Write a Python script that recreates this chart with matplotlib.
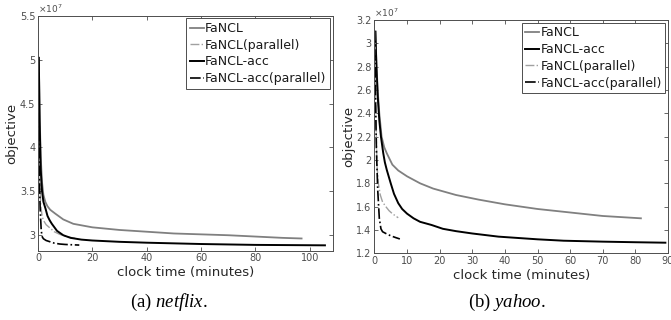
import matplotlib
matplotlib.use("Agg")
import matplotlib.pyplot as plt
from matplotlib.ticker import FuncFormatter

plt.rcParams['font.family'] = ['DejaVu Sans']
plt.rcParams['mathtext.fontset'] = 'custom'
plt.rcParams['mathtext.rm'] = 'Liberation Serif'
plt.rcParams['mathtext.it'] = 'Liberation Serif:italic'

# ---------------- netflix data (objective in units of 1e7) ----------------
nf_fancl_x = [0.3, 0.6, 1, 1.5, 2, 2.7, 3.5, 4.5, 6.4, 9.3, 13, 20, 30, 40, 50, 60, 70, 80, 90, 97]
nf_fancl_y = [5.02, 4.4, 3.9, 3.6, 3.46, 3.38, 3.33, 3.29, 3.245, 3.18, 3.13, 3.09, 3.06, 3.04, 3.02, 3.01, 3.0, 2.985, 2.97, 2.963]

nf_fancl_par_x = [0.2, 0.4, 0.7, 1, 1.5, 2, 3, 4.5, 6, 8, 10, 12, 13.7]
nf_fancl_par_y = [5.0, 4.2, 3.6, 3.35, 3.22, 3.17, 3.12, 3.08, 3.04, 3.01, 2.99, 2.975, 2.965]

nf_acc_x = [0.3, 0.6, 1, 1.5, 2, 2.8, 3.5, 4.3, 5.1, 7, 9.3, 12, 16, 20, 30, 40, 60, 80, 105.6]
nf_acc_y = [5.02, 4.3, 3.75, 3.5, 3.38, 3.3, 3.22, 3.17, 3.13, 3.05, 3.0, 2.97, 2.95, 2.94, 2.925, 2.915, 2.90, 2.89, 2.885]

nf_acc_par_x = [0.15, 0.3, 0.5, 0.8, 1.2, 1.6, 2, 3, 4.5, 6, 8, 10, 12, 15.2]
nf_acc_par_y = [5.0, 4.3, 3.7, 3.3, 3.05, 2.98, 2.96, 2.94, 2.925, 2.91, 2.9, 2.895, 2.892, 2.888]

# ---------------- yahoo data (objective in units of 1e7) ----------------
yh_fancl_x = [0.3, 0.6, 1, 1.5, 2.2, 3, 3.8, 5.5, 7.3, 10, 14, 18, 25, 32, 40, 50, 60, 70, 81.7]
yh_fancl_y = [3.1, 2.85, 2.6, 2.40, 2.2, 2.11, 2.057, 1.96, 1.91, 1.86, 1.80, 1.755, 1.70, 1.66, 1.62, 1.58, 1.55, 1.52, 1.50]

yh_acc_x = [0.3, 0.6, 1.0, 1.5, 2.0, 2.7, 3.2, 3.8, 5, 6, 7.3, 8.5, 10, 12, 14, 17.5, 21, 25, 30, 38, 50, 58, 70, 80, 89.2]
yh_acc_y = [3.1, 2.8, 2.55, 2.34, 2.2, 2.06, 1.98, 1.914, 1.80, 1.71, 1.63, 1.58, 1.54, 1.50, 1.47, 1.443, 1.41, 1.39, 1.37, 1.343, 1.32, 1.308, 1.30, 1.295, 1.291]

yh_fancl_par_x = [0.15, 0.3, 0.5, 0.8, 1.2, 1.8, 2.5, 3.5, 4.5, 5.5, 6.5, 7.3]
yh_fancl_par_y = [3.1, 2.7, 2.3, 1.95, 1.80, 1.70, 1.64, 1.60, 1.565, 1.54, 1.52, 1.505]

yh_acc_par_x = [0.1, 0.3, 0.6, 1.0, 1.5, 2.0, 2.5, 3.5, 5, 6.5, 7.8]
yh_acc_par_y = [3.1, 2.6, 2.1, 1.75, 1.5, 1.41, 1.385, 1.37, 1.35, 1.335, 1.323]

nf_xticks = [0, 20, 40, 60, 80, 100]
nf_yticks = [3, 3.5, 4, 4.5, 5, 5.5]
yh_xticks = [0, 10, 20, 30, 40, 50, 60, 70, 80, 90]
yh_yticks = [1.2, 1.4, 1.6, 1.8, 2, 2.2, 2.4, 2.6, 2.8, 3, 3.2]

GRAY = '#808080'
LGRAY = '#a0a0a0'
AXC = '#4d4d4d'

fig = plt.figure(figsize=(6.71, 3.2), dpi=100)
ax1 = fig.add_axes([0.0566, 0.2166, 0.4394, 0.7344])
ax2 = fig.add_axes([0.558, 0.2084, 0.4375, 0.7291])


def style(ax, xlim, ylim, xt, yt):
    ax.set_xlim(*xlim)
    ax.set_ylim(*ylim)
    ax.set_xticks(xt)
    ax.set_yticks(yt)
    ax.yaxis.set_major_formatter(FuncFormatter(lambda v, p: '%g' % round(v, 2)))
    ax.tick_params(direction='in', length=3, width=0.6, top=True, right=True,
                   labelsize=7, colors=AXC, pad=2)
    for s in ax.spines.values():
        s.set_color(AXC)
        s.set_linewidth(0.7)
    ax.set_xlabel('clock time (minutes)', fontsize=9.5, color='#262626', labelpad=2)
    ax.set_ylabel('objective', fontsize=9.5, color='#262626', labelpad=1)
    ax.text(0.0, 1.005, r'$\times10^{7}$', transform=ax.transAxes, fontsize=6.5,
            color=AXC, ha='left', va='bottom',
            math_fontfamily='dejavusans')


ax1.plot(nf_fancl_x, nf_fancl_y, color=GRAY, lw=1.3, label='FaNCL')
ax1.plot(nf_fancl_par_x, nf_fancl_par_y, color=LGRAY, lw=1.0, ls='-.', label='FaNCL(parallel)')
ax1.plot(nf_acc_x, nf_acc_y, color='black', lw=1.4, label='FaNCL-acc')
ax1.plot(nf_acc_par_x, nf_acc_par_y, color='black', lw=1.2, ls='-.', label='FaNCL-acc(parallel)')
style(ax1, (0, 108.5), (2.824, 5.5), nf_xticks, nf_yticks)

ax2.plot(yh_fancl_x, yh_fancl_y, color=GRAY, lw=1.3, label='FaNCL')
ax2.plot(yh_acc_x, yh_acc_y, color='black', lw=1.4, label='FaNCL-acc')
ax2.plot(yh_fancl_par_x, yh_fancl_par_y, color=LGRAY, lw=1.0, ls='-.', label='FaNCL(parallel)')
ax2.plot(yh_acc_par_x, yh_acc_par_y, color='black', lw=1.2, ls='-.', label='FaNCL-acc(parallel)')
style(ax2, (0, 90), (1.2, 3.2), yh_xticks, yh_yticks)

for ax in (ax1, ax2):
    leg = ax.legend(loc='upper right', fontsize=9, handlelength=1.1, handletextpad=0.1,
                    borderpad=0.3, labelspacing=0.3, borderaxespad=0.2,
                    fancybox=False, framealpha=1, edgecolor=AXC)
    leg.get_frame().set_linewidth(0.7)
    for t in leg.get_texts():
        t.set_color('#1a1a1a')

fig.text(0.252, 0.056, r'$\mathrm{(a)}\ \mathit{netflix}\mathrm{.}$', fontsize=13.5, ha='center', va='center')
fig.text(0.755, 0.056, r'$\mathrm{(b)}\ \mathit{yahoo}\mathrm{.}$', fontsize=13.5, ha='center', va='center')

fig.savefig('out.png', dpi=100)
